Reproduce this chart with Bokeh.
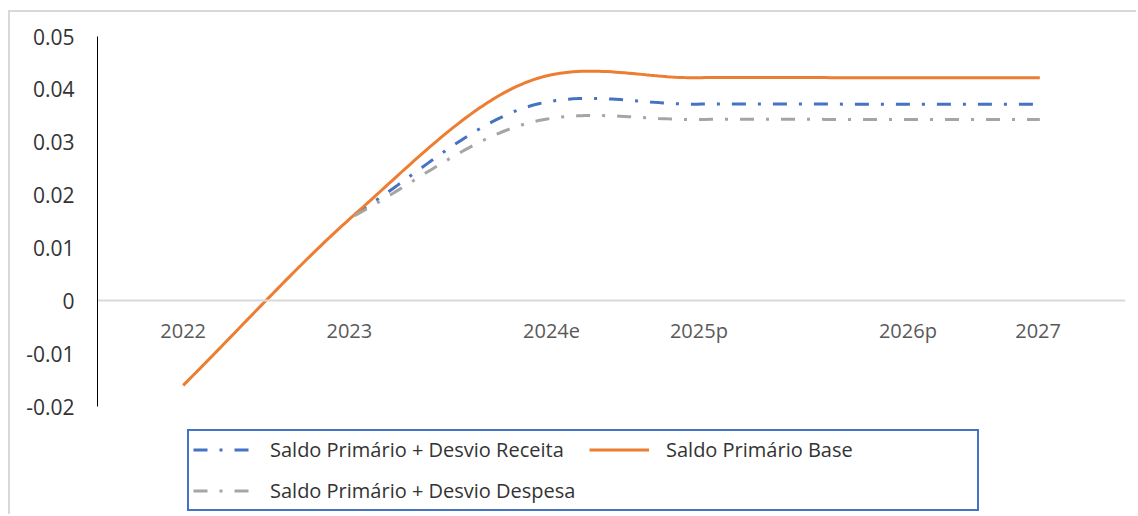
import numpy as np
from bokeh.plotting import figure
from bokeh.models import Range1d, FixedTicker, CustomJSTickFormatter, Legend, LegendItem
from bokeh.embed import file_html
from bokeh.resources import INLINE

# ---- data ----
categories = ["2022", "2023", "2024e", "2025p", "2026p", "2027"]
saldo_base = [-0.016, 0.0163, 0.0413, 0.0422, 0.0422, 0.0422]
desvio_receita = [None, 0.0163, 0.0366, 0.0372, 0.0372, 0.0372]
desvio_despesa = [None, 0.0161, 0.0335, 0.0343, 0.0343, 0.0343]
y_ticks = [-0.02, -0.01, 0, 0.01, 0.02, 0.03, 0.04, 0.05]
label_pos = [0.0, 0.97, 2.15, 3.01, 4.23, 4.99]   # where the category labels sit

FONT = "Open Sans"

# layout (pixels)
AXIS_H = 370      # height of the value axis
BELOW = 110       # room under the value axis for the legend
y_lo = y_ticks[0] - (y_ticks[-1] - y_ticks[0]) * BELOW / AXIS_H


def smooth(values, n=40):
    """Excel-like smoothed line (Catmull-Rom Bezier) through the given points."""
    pts = [(i, v) for i, v in enumerate(values) if v is not None]
    P = np.array(pts, dtype=float)
    ext = np.vstack([2 * P[0] - P[1], P, 2 * P[-1] - P[-2]])
    out = []
    for i in range(len(P) - 1):
        p0, p1, p2, p3 = ext[i], ext[i + 1], ext[i + 2], ext[i + 3]
        c1 = p1 + (p2 - p0) / 6
        c2 = p2 - (p3 - p1) / 6
        t = np.linspace(0, 1, n, endpoint=(i == len(P) - 2))[:, None]
        out.append((1 - t) ** 3 * p1 + 3 * (1 - t) ** 2 * t * c1
                   + 3 * (1 - t) * t ** 2 * c2 + t ** 3 * p2)
    a = np.vstack(out)
    return a[:, 0], a[:, 1]


BLUE, ORANGE, GRAY = "#4472c4", "#ed7d31", "#a5a5a5"
DASH = "14 12 3 12"

p = figure(width=1128, height=504,
           x_range=Range1d(-0.5, 5.5), y_range=Range1d(y_lo, y_ticks[-1]),
           output_backend="svg", toolbar_location=None,
           min_border_left=87, min_border_right=13,
           min_border_top=24, min_border_bottom=0,
           margin=(10, 0, 0, 8),
           styles={"border-left": "2px solid #d9d9d9",
                   "border-top": "2px solid #d9d9d9"})
p.outline_line_color = None
p.grid.visible = False
p.background_fill_color = "white"
p.border_fill_color = "white"

xr, yr = smooth(desvio_receita)
xb, yb = smooth(saldo_base)
xd, yd = smooth(desvio_despesa)
r_rec = p.line(xr, yr, line_color=BLUE, line_width=3, line_dash=DASH)
r_base = p.line(xb, yb, line_color=ORANGE, line_width=3)
r_desp = p.line(xd, yd, line_color=GRAY, line_width=3, line_dash=DASH)

# y axis (line limited to the tick span)
p.yaxis.ticker = FixedTicker(ticks=y_ticks)
p.yaxis.bounds = (y_ticks[0], y_ticks[-1])
p.yaxis.formatter = CustomJSTickFormatter(
    code='return Math.abs(tick) < 1e-9 ? "0" : tick.toFixed(2);')
p.yaxis.axis_line_color = "black"
p.yaxis.axis_line_width = 1
p.yaxis.major_tick_line_color = None
p.yaxis.minor_tick_line_color = None
p.yaxis.major_label_standoff = 17
p.yaxis.major_label_text_font = FONT
p.yaxis.major_label_text_font_size = "21px"
p.yaxis.major_label_text_color = "#333333"

# x (category) axis crossing at zero
p.xaxis.fixed_location = 0
p.xaxis.ticker = FixedTicker(ticks=label_pos)
p.xaxis.formatter = CustomJSTickFormatter(
    args=dict(pos=label_pos, labels=categories),
    code="""
let best = 0;
for (let i = 0; i < pos.length; i++) {
  if (Math.abs(pos[i] - tick) < Math.abs(pos[best] - tick)) best = i;
}
return labels[best];
""")
p.xaxis.axis_line_color = "#d9d9d9"
p.xaxis.axis_line_width = 2
p.xaxis.major_tick_line_color = None
p.xaxis.minor_tick_line_color = None
p.xaxis.major_label_standoff = 10
p.xaxis.major_label_text_font = FONT
p.xaxis.major_label_text_font_size = "20px"
p.xaxis.major_label_text_color = "#595959"

# legend under the axis (column-major order -> two rows as in Excel)
legend = Legend(items=[
    LegendItem(label="Saldo Primário + Desvio Receita", renderers=[r_rec]),
    LegendItem(label="Saldo Primário + Desvio Despesa", renderers=[r_desp]),
    LegendItem(label="Saldo Primário Base", renderers=[r_base]),
], location=(90, 5), ncols=2, margin=0, padding=4, spacing=12,
    label_height=29, glyph_height=29, glyph_width=60, label_standoff=17,
    label_width=307,
    border_line_color=BLUE, border_line_width=2, border_line_alpha=1,
    background_fill_color="white", background_fill_alpha=1,
    label_text_font=FONT, label_text_font_size="20px", label_text_color="#333333")
p.add_layout(legend)

open("out.html", "w").write(file_html(p, INLINE))
